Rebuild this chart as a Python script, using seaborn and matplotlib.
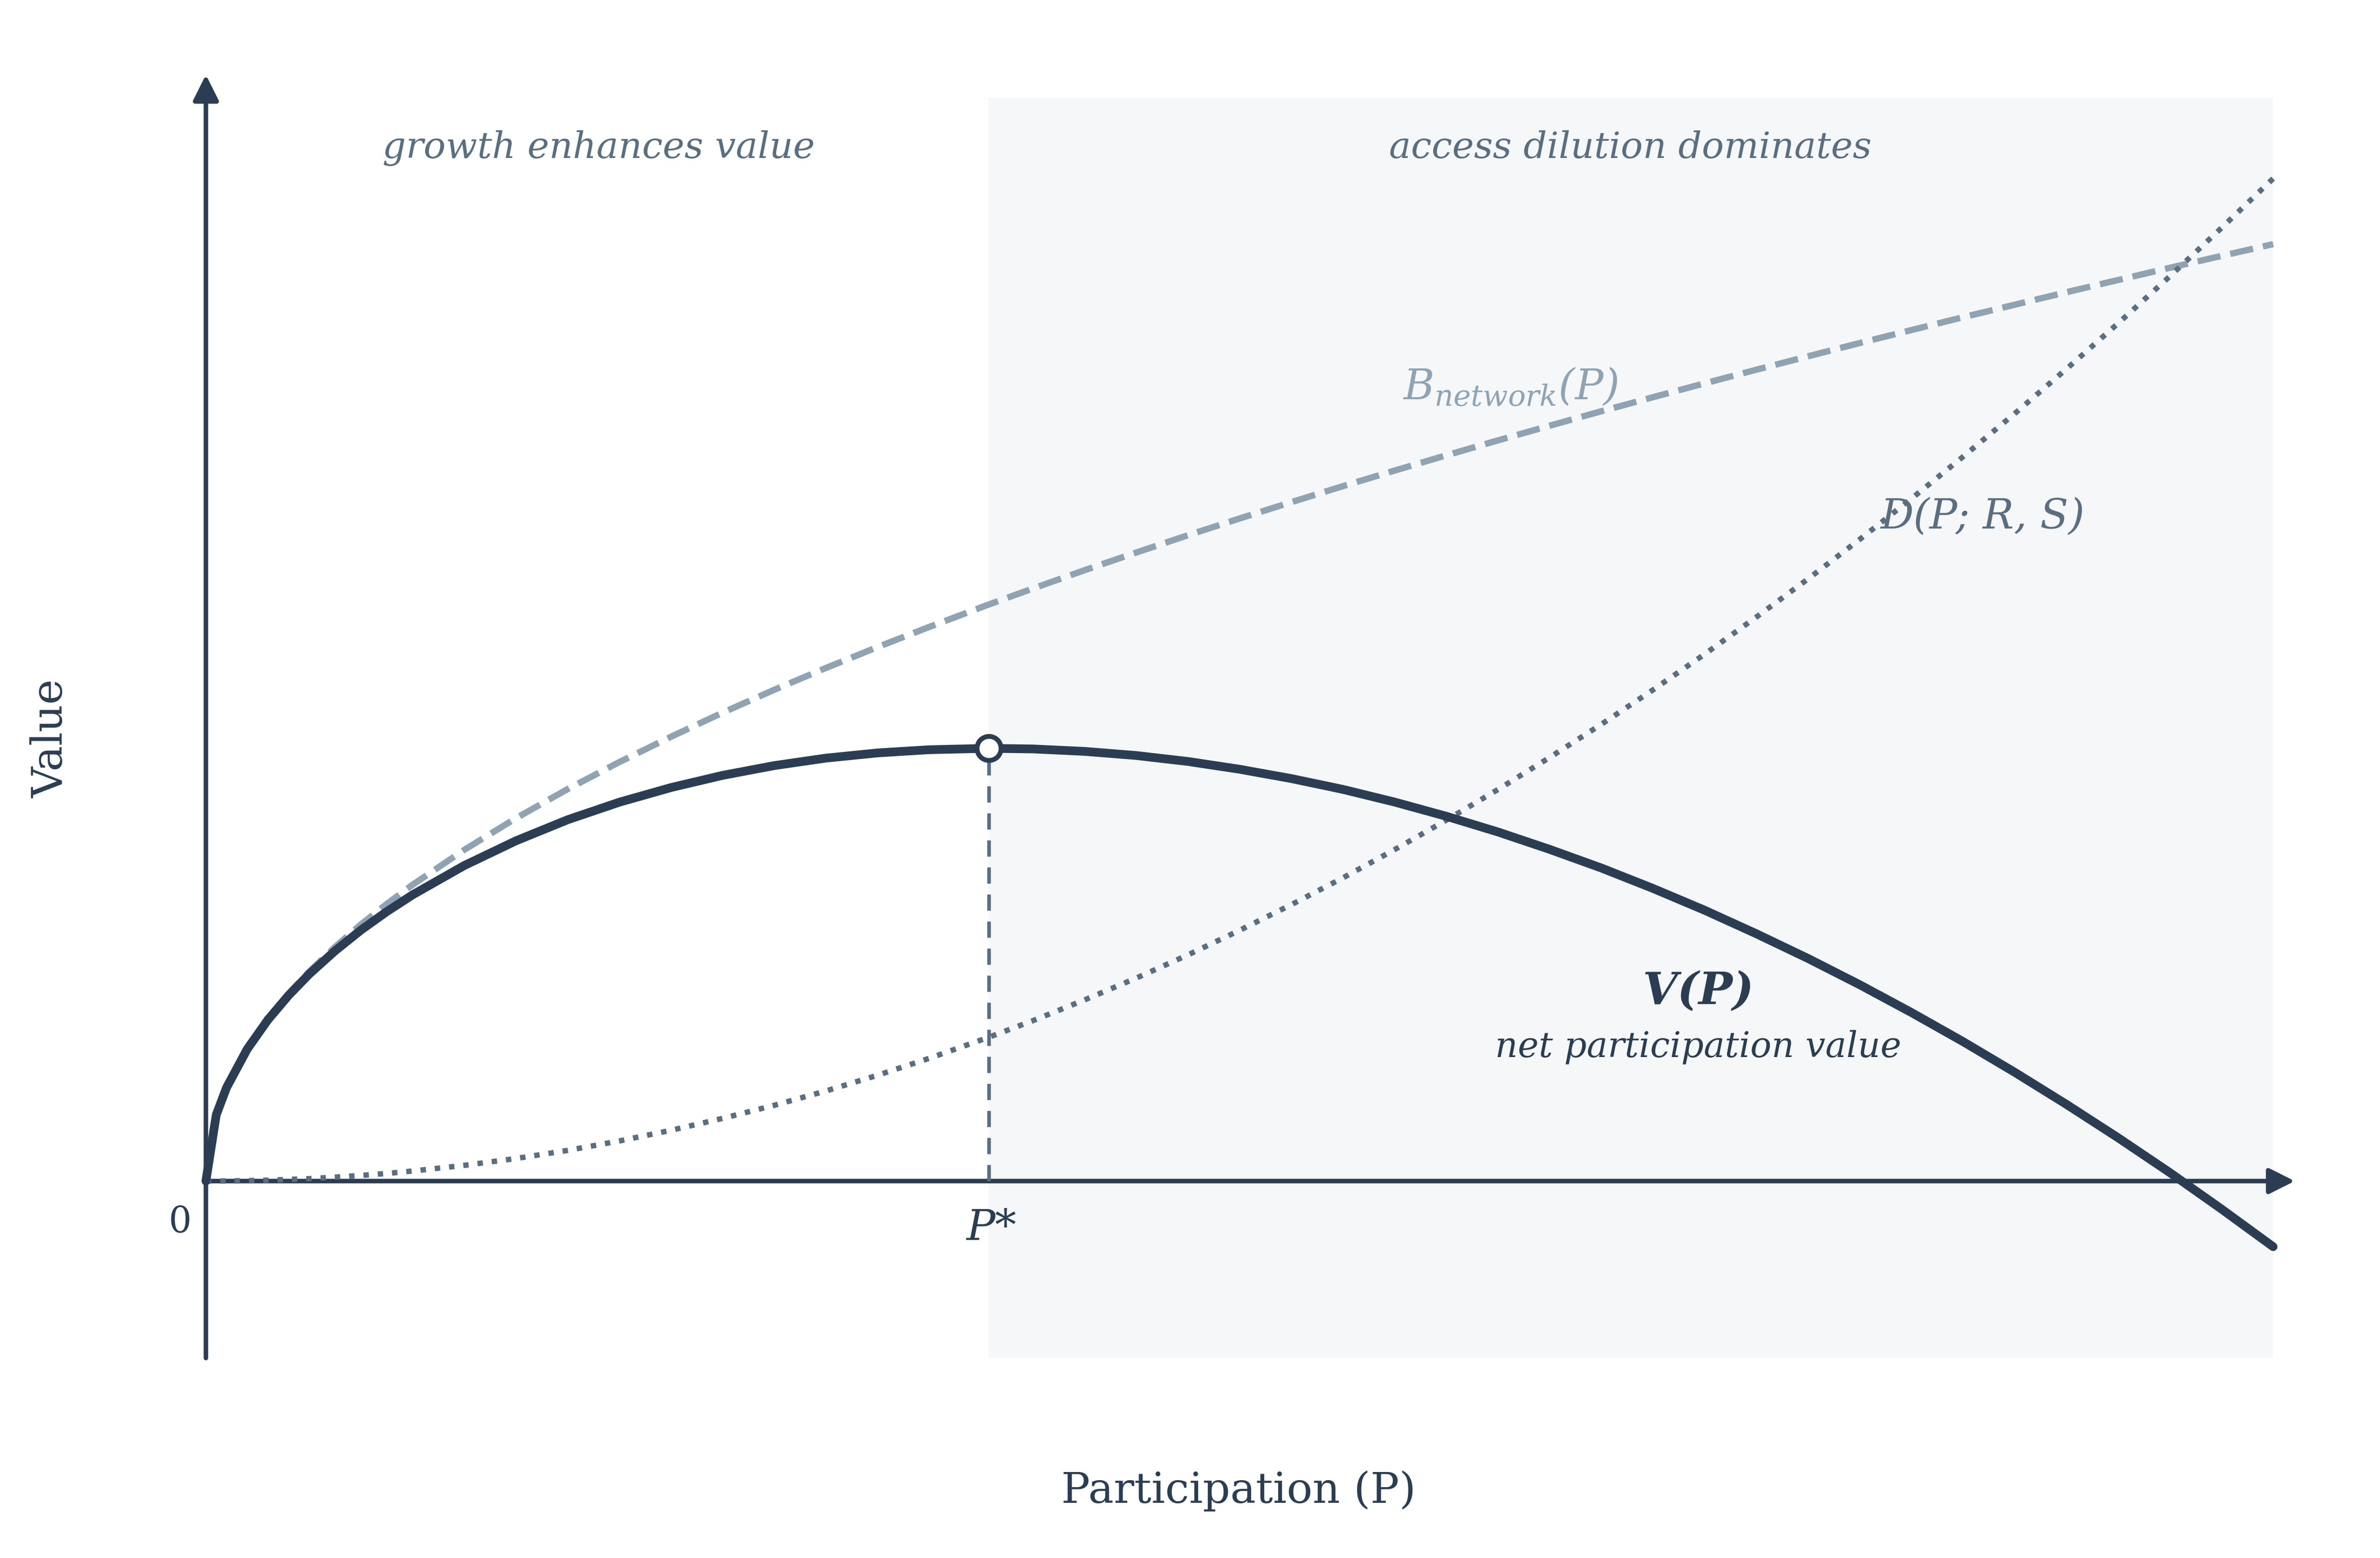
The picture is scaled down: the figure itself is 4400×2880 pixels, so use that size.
import matplotlib
matplotlib.use("Agg")
import matplotlib.pyplot as plt
import seaborn as sns
import pandas as pd

# participation (0..1) and curve values
P = [0.0, 0.005, 0.01, 0.02, 0.03, 0.04, 0.05, 0.0625, 0.075, 0.0875, 0.1,
     0.125, 0.15, 0.175, 0.2, 0.225, 0.25, 0.275, 0.3, 0.325, 0.35, 0.3786,
     0.4, 0.425, 0.45, 0.475, 0.5, 0.525, 0.55, 0.575, 0.6, 0.625, 0.65,
     0.675, 0.7, 0.725, 0.75, 0.775, 0.8, 0.825, 0.85, 0.875, 0.9, 0.925,
     0.95, 0.975, 1.0]
B_net = [0.0, 0.434, 0.614, 0.868, 1.063, 1.228, 1.373, 1.535, 1.682, 1.816,
         1.942, 2.171, 2.378, 2.569, 2.746, 2.912, 3.070, 3.220, 3.363, 3.500,
         3.632, 3.778, 3.883, 4.003, 4.119, 4.232, 4.342, 4.449, 4.554, 4.656,
         4.756, 4.854, 4.950, 5.045, 5.137, 5.228, 5.317, 5.405, 5.492, 5.577,
         5.661, 5.743, 5.825, 5.905, 5.985, 6.063, 6.140]
D_dil = [0.0, 0.000, 0.001, 0.003, 0.006, 0.011, 0.016, 0.026, 0.037, 0.050,
         0.066, 0.103, 0.148, 0.201, 0.263, 0.333, 0.411, 0.497, 0.591, 0.694,
         0.805, 0.942, 1.051, 1.187, 1.330, 1.482, 1.643, 1.811, 1.987, 2.172,
         2.365, 2.566, 2.776, 2.993, 3.219, 3.453, 3.696, 3.946, 4.205, 4.472,
         4.747, 5.030, 5.322, 5.621, 5.929, 6.246, 6.570]
V_net = [0.0, 0.434, 0.613, 0.865, 1.057, 1.217, 1.357, 1.509, 1.645, 1.766,
         1.876, 2.068, 2.230, 2.368, 2.483, 2.579, 2.659, 2.723, 2.772, 2.806,
         2.827, 2.836, 2.832, 2.816, 2.789, 2.750, 2.699, 2.638, 2.567, 2.484,
         2.391, 2.288, 2.174, 2.052, 1.918, 1.775, 1.621, 1.459, 1.287, 1.105,
         0.914, 0.713, 0.503, 0.284, 0.056, -0.183, -0.430]
P_STAR = 0.3786
V_STAR = 2.836

df = pd.DataFrame({"P": P, "B": B_net, "D": D_dil, "V": V_net})

DARK = "#2b3d52"
MID = "#5a6e80"
LIGHT = "#8fa3b3"
SHADE = "#f5f7f9"

sns.set_theme(style="white")
plt.rcParams["font.family"] = ["DejaVu Serif"]
plt.rcParams["mathtext.fontset"] = "dejavuserif"

fig = plt.figure(figsize=(22, 14.4), dpi=200)
ax = fig.add_axes([0, 0, 1, 1])
ax.set_xlim(-0.0996, 1.0517)
ax.set_ylim(-2.47, 7.74)
ax.axis("off")

# shaded dilution region
ax.fill_between([P_STAR, 1.0], -1.16, 7.10, color=SHADE, lw=0, zorder=0)

# axes with arrows
arrow = dict(arrowstyle="-|>", lw=3, color=DARK, mutation_scale=36,
             shrinkA=0, shrinkB=0)
ax.annotate("", xy=(1.0105, 0), xytext=(0, 0), arrowprops=arrow, zorder=2)
ax.annotate("", xy=(0, 7.25), xytext=(0, -1.16), arrowprops=arrow, zorder=2)

# curves
sns.lineplot(data=df, x="P", y="B", ax=ax, color=LIGHT, lw=4.2,
             linestyle="--", zorder=3)
sns.lineplot(data=df, x="P", y="D", ax=ax, color=MID, lw=3.6,
             linestyle=":", zorder=3)
sns.lineplot(data=df, x="P", y="V", ax=ax, color=DARK, lw=5.8, zorder=4)

# optimum marker and drop line
ax.plot([P_STAR, P_STAR], [0, V_STAR], color=MID, lw=2.4,
        linestyle=(0, (4.5, 3)), zorder=3)
ax.plot([P_STAR], [V_STAR], marker="o", ms=16, mfc="white", mec=DARK,
        mew=3.2, zorder=5)

# labels
ax.text(0.19, 6.77, "growth enhances value", ha="center", va="center",
        fontsize=24.5, style="italic", color=MID)
ax.text(0.689, 6.77, "access dilution dominates", ha="center", va="center",
        fontsize=24.5, style="italic", color=MID)
ax.text(0.579, 5.20, r"$B_{network}$(P)", ha="left", va="center",
        fontsize=28, style="italic", color=LIGHT)
ax.text(0.81, 4.35, "D(P; R, S)", ha="left", va="center",
        fontsize=27.5, style="italic", color=MID)
ax.text(0.722, 1.24, "V(P)", ha="center", va="center", fontsize=30,
        style="italic", weight="bold", color=DARK)
ax.text(0.722, 0.88, "net participation value", ha="center", va="center",
        fontsize=23.5, style="italic", color=DARK)
ax.text(0.380, -0.31, "P*", ha="center", va="center", fontsize=28.5,
        style="italic", color=DARK)
ax.text(-0.0125, -0.27, "0", ha="center", va="center", fontsize=24,
        color=DARK)
ax.text(-0.075, 2.90, "Value", ha="center", va="center", fontsize=28.5,
        rotation=90, color=DARK)
ax.text(0.4996, -2.03, "Participation (P)", ha="center", va="center",
        fontsize=28.5, color=DARK)

fig.savefig("out.png", dpi=200, facecolor="white")
